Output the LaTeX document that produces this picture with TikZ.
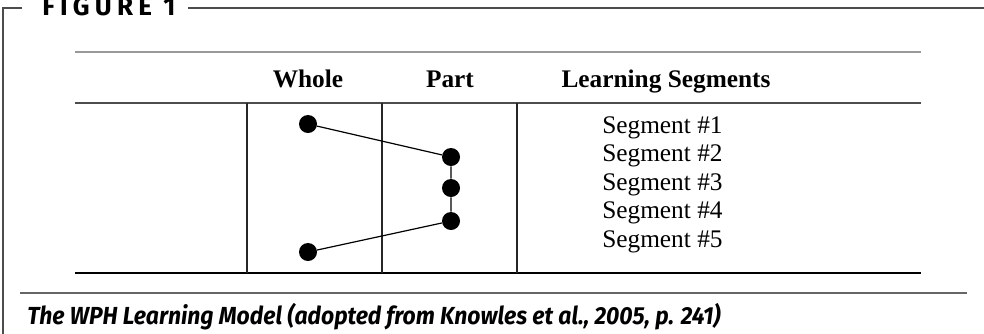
\documentclass[tikz,border=0pt]{standalone}
\usepackage{fontspec}
\setmainfont{Liberation Serif}
\newfontfamily\capfont{Fira Sans}
\begin{document}
\begin{tikzpicture}[x=0.75pt,y=-0.75pt,
		dot/.style={circle,fill=black,inner sep=0pt,minimum size=13.5pt},
		link/.style={line width=0.9pt},
		framerule/.style={draw=black!70,line width=1.5pt},
		colrule/.style={draw=black!85,line width=1pt},
		headtext/.style={anchor=base,inner sep=0pt,font=\fontsize{19}{22}\selectfont\bfseries},
		segtext/.style={anchor=base west,inner sep=0pt,font=\fontsize{19}{22}\selectfont}]
	\useasboundingbox (0,0) rectangle (984,333);
	% frame and title
	\draw[framerule] (22,8) -- (3,8) -- (3,340);
	\draw[framerule] (188,8) -- (990,8);
	\node[anchor=base west,inner sep=0pt,font=\capfont\bfseries\fontsize{19.5}{22}\selectfont\addfontfeature{LetterSpace=20}] (fig) at (42,15) {FIGURE 1};
	% table rules
	\draw[black!40,line width=2.2pt] (75,52) -- (921,52);
	\draw[black!70,line width=1.1pt] (75,103) -- (921,103);
	\draw[line width=1.5pt] (75,273) -- (921,273);
	\foreach \x in {247,382,517} \draw[colrule] (\x,103) -- (\x,273);
	% headers
	\node[headtext] (whole) at (308,87) {Whole};
	\node[headtext] (part) at (450,87) {Part};
	\node[headtext] (segs) at (666,87) {Learning Segments};
	\foreach \i in {1,...,5} \node[segtext] (s\i) at (602,{104.5+28.5*\i}) {Segment \#\i};
	% path through the segments
	\foreach \n/\x/\y in {d1/308/124,d2/451/157,d3/451/188,d4/451/221,d5/308/252} \node[dot] (\n) at (\x,\y) {};
	\draw[link] (d1) -- (d2) -- (d3) -- (d4) -- (d5);
	% caption
	\draw[black!60,line width=1.8pt] (20,293) -- (967,293);
	\node[anchor=base west,inner sep=0pt,font=\capfont\bfseries\itshape\fontsize{18.5}{21}\selectfont] (cap) at (27,324) {\resizebox{520pt}{\height}{The WPH Learning Model (adopted from Knowles et al., 2005, p. 241)}};
\end{tikzpicture}
\end{document}
